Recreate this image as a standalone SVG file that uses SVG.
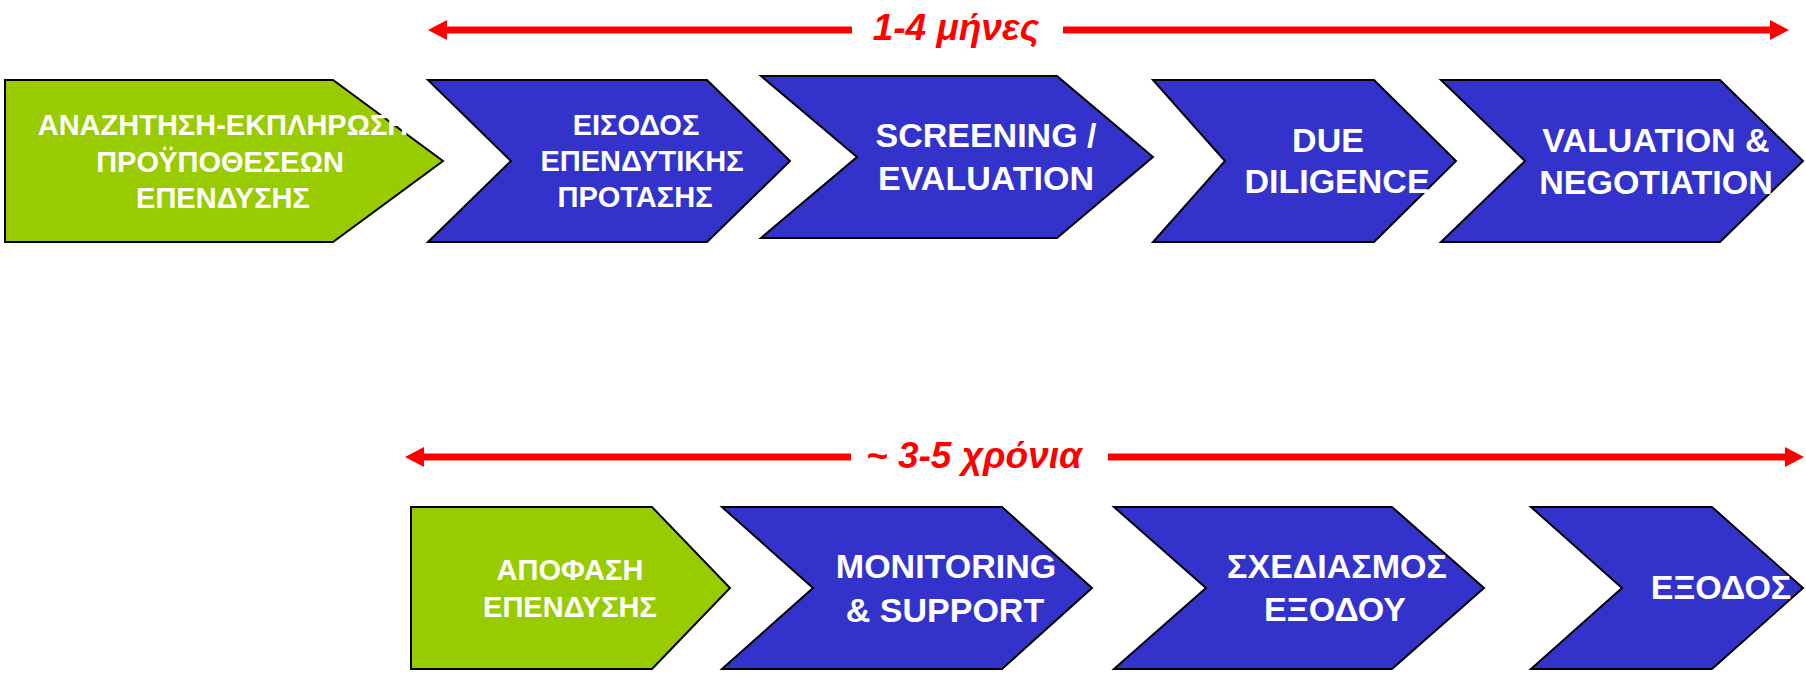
<svg xmlns="http://www.w3.org/2000/svg" width="1806" height="678" viewBox="0 0 1806 678">
<style>
.green{fill:#99CC00;stroke:#000;stroke-width:2;stroke-linejoin:miter}
.blue{fill:#3333CC;stroke:#000;stroke-width:2;stroke-linejoin:miter}
.t{font-family:"Liberation Sans",Arial,sans-serif;font-weight:bold;fill:#fff;text-anchor:middle}
.s28{font-size:29px}
.s33{font-size:34px}
.span{stroke:#FF0000;stroke-width:7;fill:none}
.lbl{font-family:"Liberation Sans",Arial,sans-serif;font-weight:bold;font-style:italic;font-size:37px;fill:#FF0000;text-anchor:middle}
</style>
<defs>
<marker id="ah" markerUnits="userSpaceOnUse" markerWidth="20" markerHeight="22" refX="0" refY="10" orient="auto-start-reverse" viewBox="0 0 20 20">
<path d="M0,0 L19,10 L0,20 z" fill="#FF0000"/>
</marker>
</defs>
<rect width="1806" height="678" fill="#fff"/>
<g id="connectors">
<line class="span" x1="447" y1="30" x2="852" y2="30" marker-start="url(#ah)"/>
<line class="span" x1="1063" y1="30" x2="1770" y2="30" marker-end="url(#ah)"/>
<line class="span" x1="424" y1="457" x2="851" y2="457" marker-start="url(#ah)"/>
<line class="span" x1="1108" y1="457" x2="1785" y2="457" marker-end="url(#ah)"/>
<text class="lbl" x="956" y="40">1-4 μήνες</text>
<text class="lbl" x="974" y="468">~ 3-5 χρόνια</text>
</g>
<g id="n1">
<polygon class="green" points="5,80 333,80 443,161 333,242 5,242"/>
<text class="t s28" x="223" y="135">ΑΝΑΖΗΤΗΣΗ-ΕΚΠΛΗΡΩΣΗ</text>
<text class="t s28" x="220" y="172">ΠΡΟΫΠΟΘΕΣΕΩΝ</text>
<text class="t s28" x="223" y="208">ΕΠΕΝΔΥΣΗΣ</text>
</g>
<g id="n2">
<polygon class="blue" points="428,80 707,80 790,161 707,242 428,242 511,161"/>
<text class="t s28" x="636" y="135">ΕΙΣΟΔΟΣ</text>
<text class="t s28" x="642" y="171">ΕΠΕΝΔΥΤΙΚΗΣ</text>
<text class="t s28" x="635" y="207">ΠΡΟΤΑΣΗΣ</text>
</g>
<g id="n3">
<polygon class="blue" points="761,76 1057,76 1153,157 1057,238 761,238 857,157"/>
<text class="t s33" x="986" y="147">SCREENING /</text>
<text class="t s33" x="986" y="190">EVALUATION</text>
</g>
<g id="n4">
<polygon class="blue" points="1153,80 1374,80 1456,161 1374,242 1153,242 1225,161"/>
<text class="t s33" x="1328" y="152">DUE</text>
<text class="t s33" x="1337" y="193">DILIGENCE</text>
</g>
<g id="n5">
<polygon class="blue" points="1441,80 1720,80 1803,161 1720,242 1441,242 1525,161"/>
<text class="t s33" x="1656" y="152">VALUATION &amp;</text>
<text class="t s33" x="1656" y="194">NEGOTIATION</text>
</g>
<g id="n6">
<polygon class="green" points="411,507 652,507 730,588 652,669 411,669"/>
<text class="t s28" x="570" y="580">ΑΠΟΦΑΣΗ</text>
<text class="t s28" x="570" y="617">ΕΠΕΝΔΥΣΗΣ</text>
</g>
<g id="n7">
<polygon class="blue" points="722,507 1002,507 1092,588 1002,669 722,669 813,588"/>
<text class="t s33" x="946" y="578">MONITORING</text>
<text class="t s33" x="945" y="622">&amp; SUPPORT</text>
</g>
<g id="n8">
<polygon class="blue" points="1114,507 1392,507 1484,588 1392,669 1114,669 1206,588"/>
<text class="t s33" x="1337" y="578">ΣΧΕΔΙΑΣΜΟΣ</text>
<text class="t s33" x="1335" y="621">ΕΞΟΔΟΥ</text>
</g>
<g id="n9">
<polygon class="blue" points="1531,507 1712,507 1803,588 1712,669 1531,669 1622,588"/>
<text class="t s33" x="1721" y="599">ΕΞΟΔΟΣ</text>
</g>
</svg>
